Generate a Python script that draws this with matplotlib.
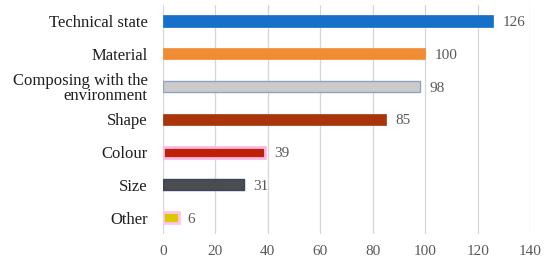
import matplotlib.pyplot as plt

# data
categories = ["Technical state", "Material", "Composing with the\nenvironment",
              "Shape", "Colour", "Size", "Other"]
counts = [126, 100, 98, 85, 39, 31, 6]
fill_colors = ["#1470c8", "#f08c34", "#cbcbcb", "#a8350c", "#bb2208", "#4a4c50", "#dcc800"]
edge_colors = ["#1470c8", "#f08c34", "#8fa3c2", "#a8350c", "#ffb8e4", "#3a4560", "#ffc4ea"]
edge_widths = [0.5, 0.5, 1.0, 0.5, 2.0, 1.0, 2.0]
x_ticks = [0, 20, 40, 60, 80, 100, 120, 140]

plt.rcParams['font.family'] = ['Liberation Serif', 'DejaVu Serif']

fig = plt.figure(figsize=(5.5, 2.7), dpi=100)
ax = fig.add_axes([0.296, 0.133, 0.668, 0.85])

ypos = list(range(len(categories)))
ax.barh(ypos, counts, height=0.34, color=fill_colors,
        edgecolor=edge_colors, linewidth=edge_widths, zorder=3)

for y, v in zip(ypos, counts):
    ax.text(v + 3.5, y + 0.05, str(v), va='center', ha='left', fontsize=11,
            color='#595959', zorder=4)

ax.set_yticks(ypos)
ax.set_yticklabels(categories, fontsize=12, color='#1f1f1f', linespacing=0.92)
ax.invert_yaxis()
ax.set_ylim(6.5, -0.5)

ax.set_xlim(0, 140)
ax.set_xticks(x_ticks)
ax.tick_params(axis='x', labelsize=11, colors='#595959', length=0, pad=8)
ax.tick_params(axis='y', length=0, pad=11)
ax.xaxis.grid(True, color='#d6d6d6', linewidth=0.9, zorder=0)
ax.set_axisbelow(True)
for s in ax.spines.values():
    s.set_visible(False)

fig.savefig("out.png", dpi=100)
